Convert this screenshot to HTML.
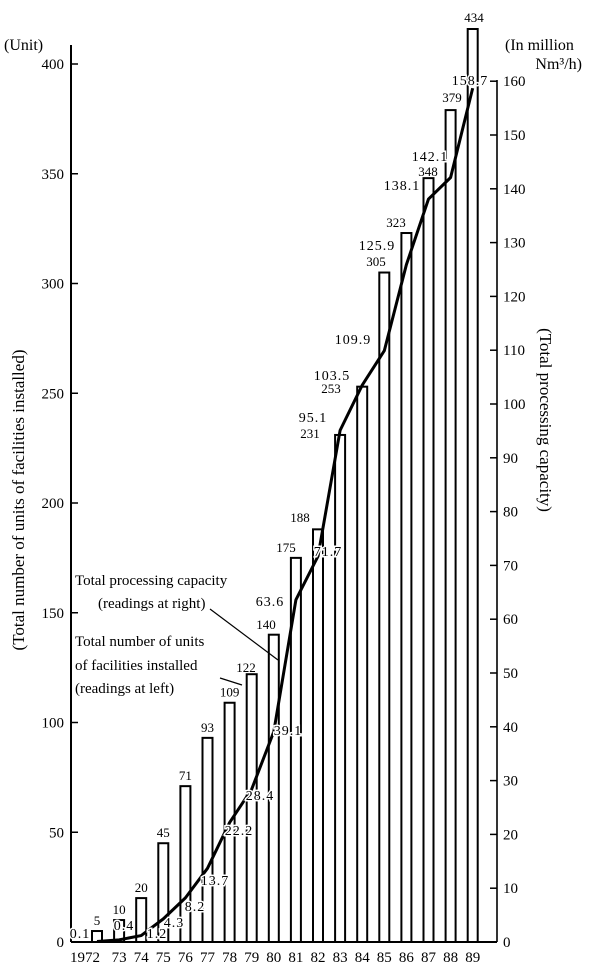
<!DOCTYPE html>
<html><head><meta charset="utf-8"><style>
html,body{margin:0;padding:0;background:#fff;}
svg{display:block;font-family:"Liberation Serif",serif;}
</style></head><body>
<svg width="600" height="977" viewBox="0 0 600 977" xmlns="http://www.w3.org/2000/svg">
<g stroke="#000" fill="none">
<line x1="71" y1="45" x2="71" y2="942" stroke-width="2"/>
<line x1="71" y1="942" x2="497" y2="942" stroke-width="2"/>
<line x1="497" y1="80" x2="497" y2="942" stroke-width="1.6"/>
</g>
<g id="lt" stroke="#000" stroke-width="1.5"></g>
<g id="rt" stroke="#000" stroke-width="1.5"></g>
<g id="bars" stroke="#000" stroke-width="2" fill="#fff"></g>
<g id="txt" font-size="14" text-anchor="end"></g>
<text x="4" y="50" font-size="16">(Unit)</text>
<text x="505" y="50" font-size="16">(In million</text>
<text x="582" y="69" font-size="16" text-anchor="end">Nm³/h)</text>
<text transform="translate(24,500) rotate(-90)" font-size="17" text-anchor="middle">(Total number of units of facilities installed)</text>
<text transform="translate(540,420) rotate(90)" font-size="17" text-anchor="middle">(Total processing capacity)</text>
<g font-size="15" stroke="#fff" stroke-width="4" paint-order="stroke">
<text x="75" y="585">Total processing capacity</text>
<text x="98" y="608">(readings at right)</text>
<text x="75" y="646">Total number of units</text>
<text x="75" y="670">of facilities installed</text>
<text x="75" y="693">(readings at left)</text>
</g>
<g stroke="#000" stroke-width="1.2">
<line x1="210" y1="609" x2="278" y2="660"/>
<line x1="220" y1="678" x2="242" y2="685"/>
</g>
<polyline id="ln" fill="none" stroke="#000" stroke-width="3" stroke-linejoin="round"/>
<g id="cap" font-size="14" letter-spacing="1" text-anchor="middle" stroke="#fff" stroke-width="3" paint-order="stroke"></g>
<g id="yr" font-size="15" text-anchor="middle"></g>
<script>
var ns="http://www.w3.org/2000/svg";
function el(p,t,a,tx){var e=document.createElementNS(ns,t);for(var k in a)e.setAttribute(k,a[k]);if(tx!=null)e.textContent=tx;document.getElementById(p).appendChild(e);return e;}
var Y0=942,lu=109.75/50,ru=5.38;
for(var v=0;v<=400;v+=50){var y=Y0-v*lu;el('lt','line',{x1:71,y1:y,x2:78,y2:y});el('txt','text',{x:64,y:y+5,'font-size':15},v);}
for(var v=0;v<=160;v+=10){var y=Y0-v*ru;el('rt','line',{x1:490,y1:y,x2:497,y2:y});el('txt','text',{x:503,y:y+5,'text-anchor':'start','font-size':15},v);}
var cnt=[5,10,20,45,71,93,109,122,140,175,188,231,253,305,323,348,379,434];
var cap=[0.1,0.4,1.2,4.3,8.2,13.7,22.2,28.4,39.1,63.6,71.7,95.1,103.5,109.9,125.9,138.1,142.1,158.7];
var yrs=["1972","73","74","75","76","77","78","79","80","81","82","83","84","85","86","87","88","89"];
var cpos={7:[246,672],8:[266,629],9:[286,552],10:[300,522],11:[310,438],12:[331,393],13:[376,266],14:[396,227],15:[428,176],16:[452,102],17:[474,22]};
var pts=[];
for(var i=0;i<18;i++){var x=92+22.1*i,h=cnt[i]*lu;var bt=Y0-h;if(i==17)bt=29;
el('bars','rect',{x:x,y:bt,width:10,height:Y0-bt});
var lp=cpos[i]||[x+5,bt-6];
el('txt','text',{x:lp[0],y:lp[1],'text-anchor':'middle','font-size':13},cnt[i]);
el('yr','text',{x:x+5+(i==0?-12:0),y:962},yrs[i]);
pts.push((x+5)+","+(Y0-cap[i]*ru));}
document.getElementById('ln').setAttribute('points',pts.join(' '));
var cl=[[80,938],[124,930],[157,938],[174,927],[195,911],[215,885],[239,835],[260,800],[288,735],[270,606],[328,556],[313,422],[332,380],[353,344],[377,250],[402,190],[430,161],[470,85]];
for(var i=0;i<18;i++)el('cap','text',{x:cl[i][0],y:cl[i][1]},cap[i].toFixed(1));
</script>
</svg>
</body></html>
